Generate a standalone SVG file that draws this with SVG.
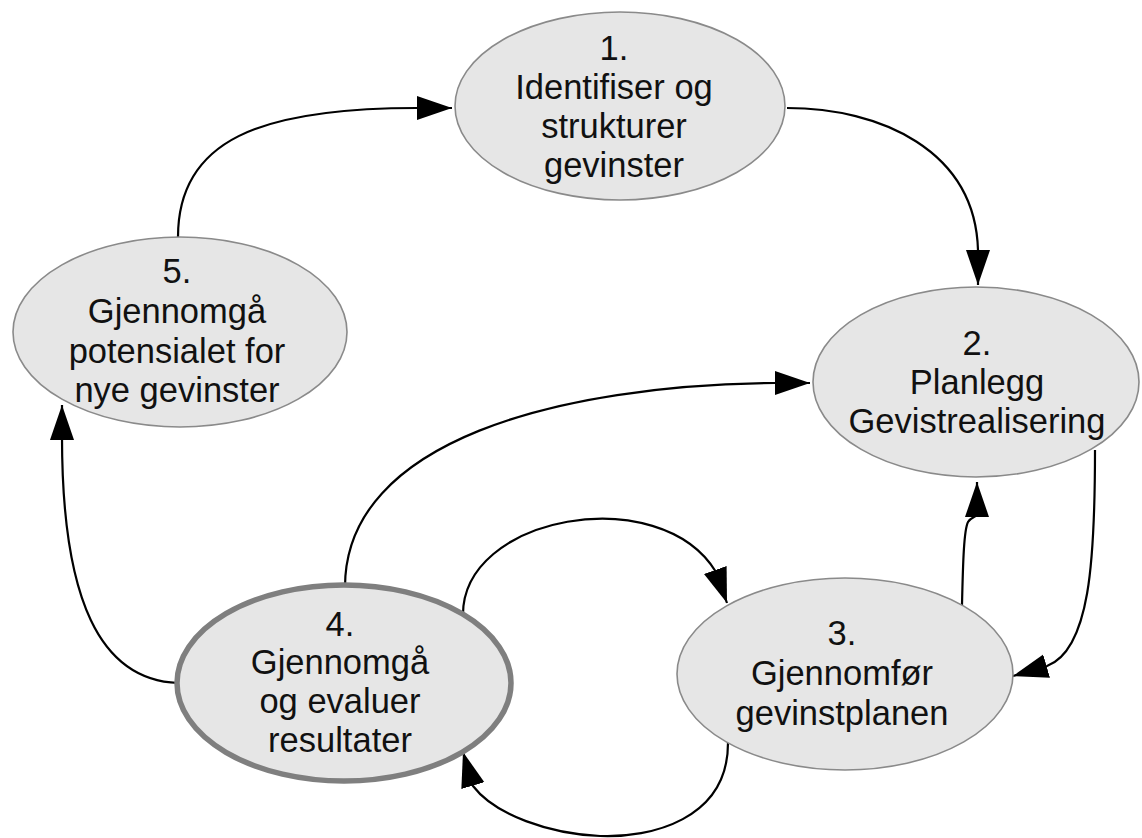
<svg xmlns="http://www.w3.org/2000/svg" width="1142" height="838" viewBox="0 0 1142 838">
<defs>
<style>
.node ellipse{fill:#e6e6e6;stroke:#8a8a8a;stroke-width:1.6}
.node.bold ellipse{stroke:#7f7f7f;stroke-width:5.5}
.node text{font-family:"Liberation Sans",Arial,sans-serif;font-size:34.5px;fill:#111;text-anchor:middle}
#connectors path{fill:none;stroke:#000;stroke-width:2.2;marker-end:url(#ah)}
</style>
<marker id="ah" markerWidth="36" markerHeight="26" refX="35" refY="12" orient="auto" markerUnits="userSpaceOnUse">
<path d="M0,0 L35,12 L0,24 z" fill="#000"/>
</marker>
</defs>
<rect width="1142" height="838" fill="#fff"/>
<g id="connectors">
<path d="M178,237 C178,140 260,108 417,108 L452,108"/>
<path d="M787,108 C880,108 975,150 978,250 L978,285"/>
<path d="M345,587 C345,440 560,385 775,383 L810,383"/>
<path d="M463,617 C460,515 660,480 716,572 L727,603"/>
<path d="M728,743 C728,820 650,838 600,836 C550,834 495,815 473,786 L463,752"/>
<path d="M1095,450 C1095,560 1090,650 1047,666 L1013,676"/>
<path d="M962,605 C963,560 964,530 968,522 C970,518 975,517 977,515 L977,482"/>
<path d="M178,683 C100,680 62,600 62,437 L62,405"/>
</g>
<g id="node1" class="node">
<ellipse cx="620" cy="106" rx="165" ry="94"/>
<text x="614" y="60">1.</text>
<text x="614" y="99">Identifiser og</text>
<text x="614" y="138">strukturer</text>
<text x="614" y="177">gevinster</text>
</g>
<g id="node2" class="node">
<ellipse cx="976" cy="382" rx="163" ry="95"/>
<text x="977" y="355">2.</text>
<text x="977" y="394">Planlegg</text>
<text x="977" y="433">Gevistrealisering</text>
</g>
<g id="node3" class="node">
<ellipse cx="845" cy="674" rx="168" ry="96"/>
<text x="842" y="645">3.</text>
<text x="842" y="685">Gjennomfør</text>
<text x="842" y="725">gevinstplanen</text>
</g>
<g id="node4" class="node bold">
<ellipse cx="344" cy="683" rx="167" ry="98"/>
<text x="340" y="636">4.</text>
<text x="340" y="674">Gjennomgå</text>
<text x="340" y="713">og evaluer</text>
<text x="340" y="752">resultater</text>
</g>
<g id="node5" class="node">
<ellipse cx="180" cy="332" rx="167" ry="95"/>
<text x="177" y="283">5.</text>
<text x="177" y="323">Gjennomgå</text>
<text x="177" y="363">potensialet for</text>
<text x="177" y="402">nye gevinster</text>
</g>
</svg>
